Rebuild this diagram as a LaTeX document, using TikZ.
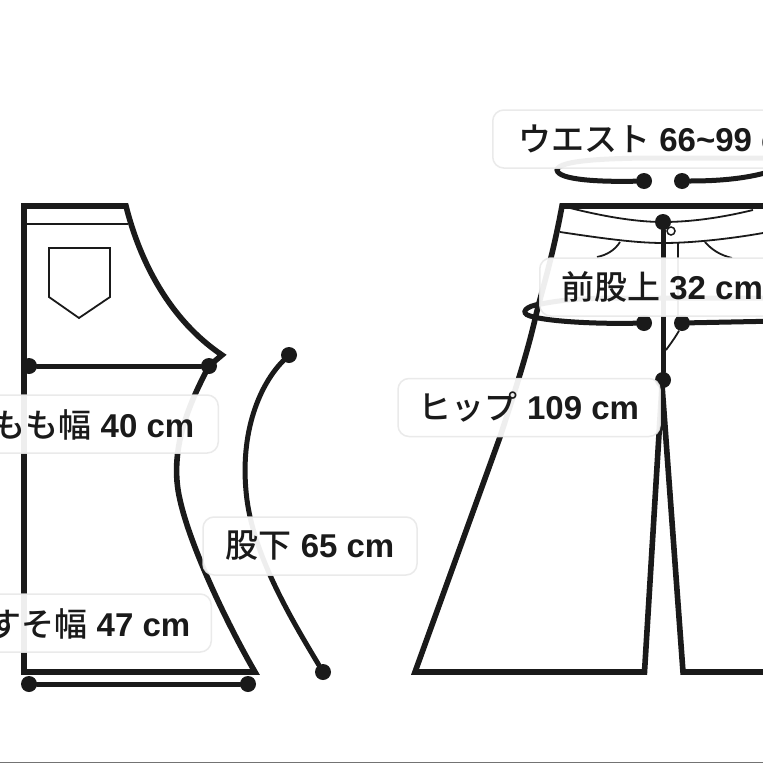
\documentclass[tikz,border=0pt]{standalone}
\usepackage{fontspec}
\setmainfont{Liberation Sans}
\newfontfamily\cjk{Noto Sans CJK JP Medium}
\definecolor{ink}{HTML}{1A1A1A}
\tikzset{
  x=1pt,y=-1pt,
  heavy/.style={draw=ink,line width=5.6pt,line join=miter},
  medium/.style={draw=ink,line width=5pt,line cap=round},
  thin/.style={draw=ink,line width=1.8pt},
  dot/.style={circle,fill=ink,inner sep=0pt,minimum size=16pt},
  tagtext/.style={text=ink,font=\fontsize{33}{36}\selectfont\bfseries,inner sep=0pt},
  tag/.style={rounded corners=11pt,draw=black!9,line width=1.5pt,fill=white,
    fill opacity=.93,draw opacity=.9,text opacity=1,minimum height=58pt,tagtext},
}
\newcommand{\jp}[1]{{\cjk\mdseries\fontsize{33}{36}\selectfont #1}}
\begin{document}
\begin{tikzpicture}
\useasboundingbox (0,0) rectangle (763,763);
\clip (0,0) rectangle (763,763);
\fill[white] (0,0) rectangle (763,763);
\draw[draw=black!55,line width=1.5pt] (0,762.3) -- (763,762.3);

% ---- side view
\draw[heavy] (24,206) -- (126,206)
  .. controls (140,262) and (170,320) .. (222,355) -- (209,366)
  .. controls (190,402) and (168,450) .. (180,500)
  .. controls (190,545) and (225,620) .. (255,672) -- (24,672) -- cycle;
\draw[thin] (24,224) -- (128,224);
\draw[thin] (49,248) -- (110,248) -- (110,297) -- (79,318) -- (49,297) -- cycle;

% ---- front view
\draw[heavy] (763,206) -- (562,206)
  .. controls (552,260) and (542,290) .. (536,315)
  .. controls (527,355) and (512,400) .. (500,437)
  -- (415,672)
  -- (644.5,672) -- (662,385) -- (683,672) -- (770,672);
\draw[thin] (570,208) .. controls (610,218) and (640,222) .. (663,222)
  .. controls (690,222) and (720,218) .. (753,210);
\draw[thin] (560,232) .. controls (600,238) and (635,243) .. (663,243)
  .. controls (695,243) and (735,238) .. (763,233);
\draw[thin] (620,242) .. controls (615,250) and (607,255) .. (597,257);
\draw[thin] (705,242) .. controls (712,250) and (720,255) .. (732,258);
\draw[thin] (678,243) -- (678,318);

% ---- measure points
\node[dot] (thighL) at (29,366) {};
\node[dot] (thighR) at (209,366) {};
\node[dot] (hemL) at (29,684) {};
\node[dot] (hemR) at (248,684) {};
\node[dot] (inTop) at (289,355) {};
\node[dot] (inBot) at (323,672) {};
\node[dot] (waistL) at (644,181) {};
\node[dot] (waistR) at (682,181) {};
\node[dot] (hipL) at (644,323) {};
\node[dot] (hipR) at (682,323) {};
\node[dot] (riseTop) at (663,222) {};
\node[dot] (riseBot) at (663,380) {};
\node[circle,draw=ink,fill=white,line width=1.5pt,inner sep=0pt,minimum size=8pt] (button) at (671,231) {};

\draw[medium] (thighL) -- (thighR);
\draw[medium] (hemL) -- (hemR);
\draw[medium] (inTop) .. controls (262,382) and (238,430) .. (247,500)
  .. controls (255,560) and (295,625) .. (inBot);
\draw[medium] (riseTop) -- (riseBot);
\draw[thin] (hipR) .. controls (678,333) and (672,342) .. (666,350);
\draw[medium] (waistL) .. controls (600,182) and (558,180) .. (557,170)
  .. controls (558,160) and (610,158) .. (660,158) -- (780,158);
\draw[medium] (waistR) .. controls (710,181) and (750,180) .. (780,168);
\draw[medium] (hipL) .. controls (600,324) and (550,322) .. (530,316)
  .. controls (520,313) and (525,306) .. (541,304) .. controls (570,298) and (600,298) .. (640,298) -- (780,298);
\draw[medium] (hipR) -- (780,321);

% ---- labels
\node[tag,minimum width=240pt,anchor=east] (lThigh) at (219,424) {};
\node[tagtext,anchor=east] (tThigh) at (194.5,425) {\jp{もも幅} 40 cm};
\node[tag,minimum width=240pt,anchor=east] (lHem) at (212,623) {};
\node[tagtext,anchor=east] (tHem) at (190.5,624) {\jp{すそ幅} 47 cm};
\node[tag,minimum width=214pt] (lInseam) at (310,546) {\jp{股下} 65 cm};
\node[tag,minimum width=262pt] (lHip) at (529,407.5) {\jp{ヒップ} 109 cm};
\node[tag,minimum width=260pt,anchor=west] (lRise) at (539,287) {};
\node[tagtext,anchor=west] (tRise) at (561,287) {\jp{前股上} 32 cm};
\node[tag,minimum width=330pt,anchor=west] (lWaist) at (492,139) {};
\node[tagtext,anchor=west] (tWaist) at (518,139) {\jp{ウエスト} 66\textasciitilde 99 cm};
\end{tikzpicture}
\end{document}
